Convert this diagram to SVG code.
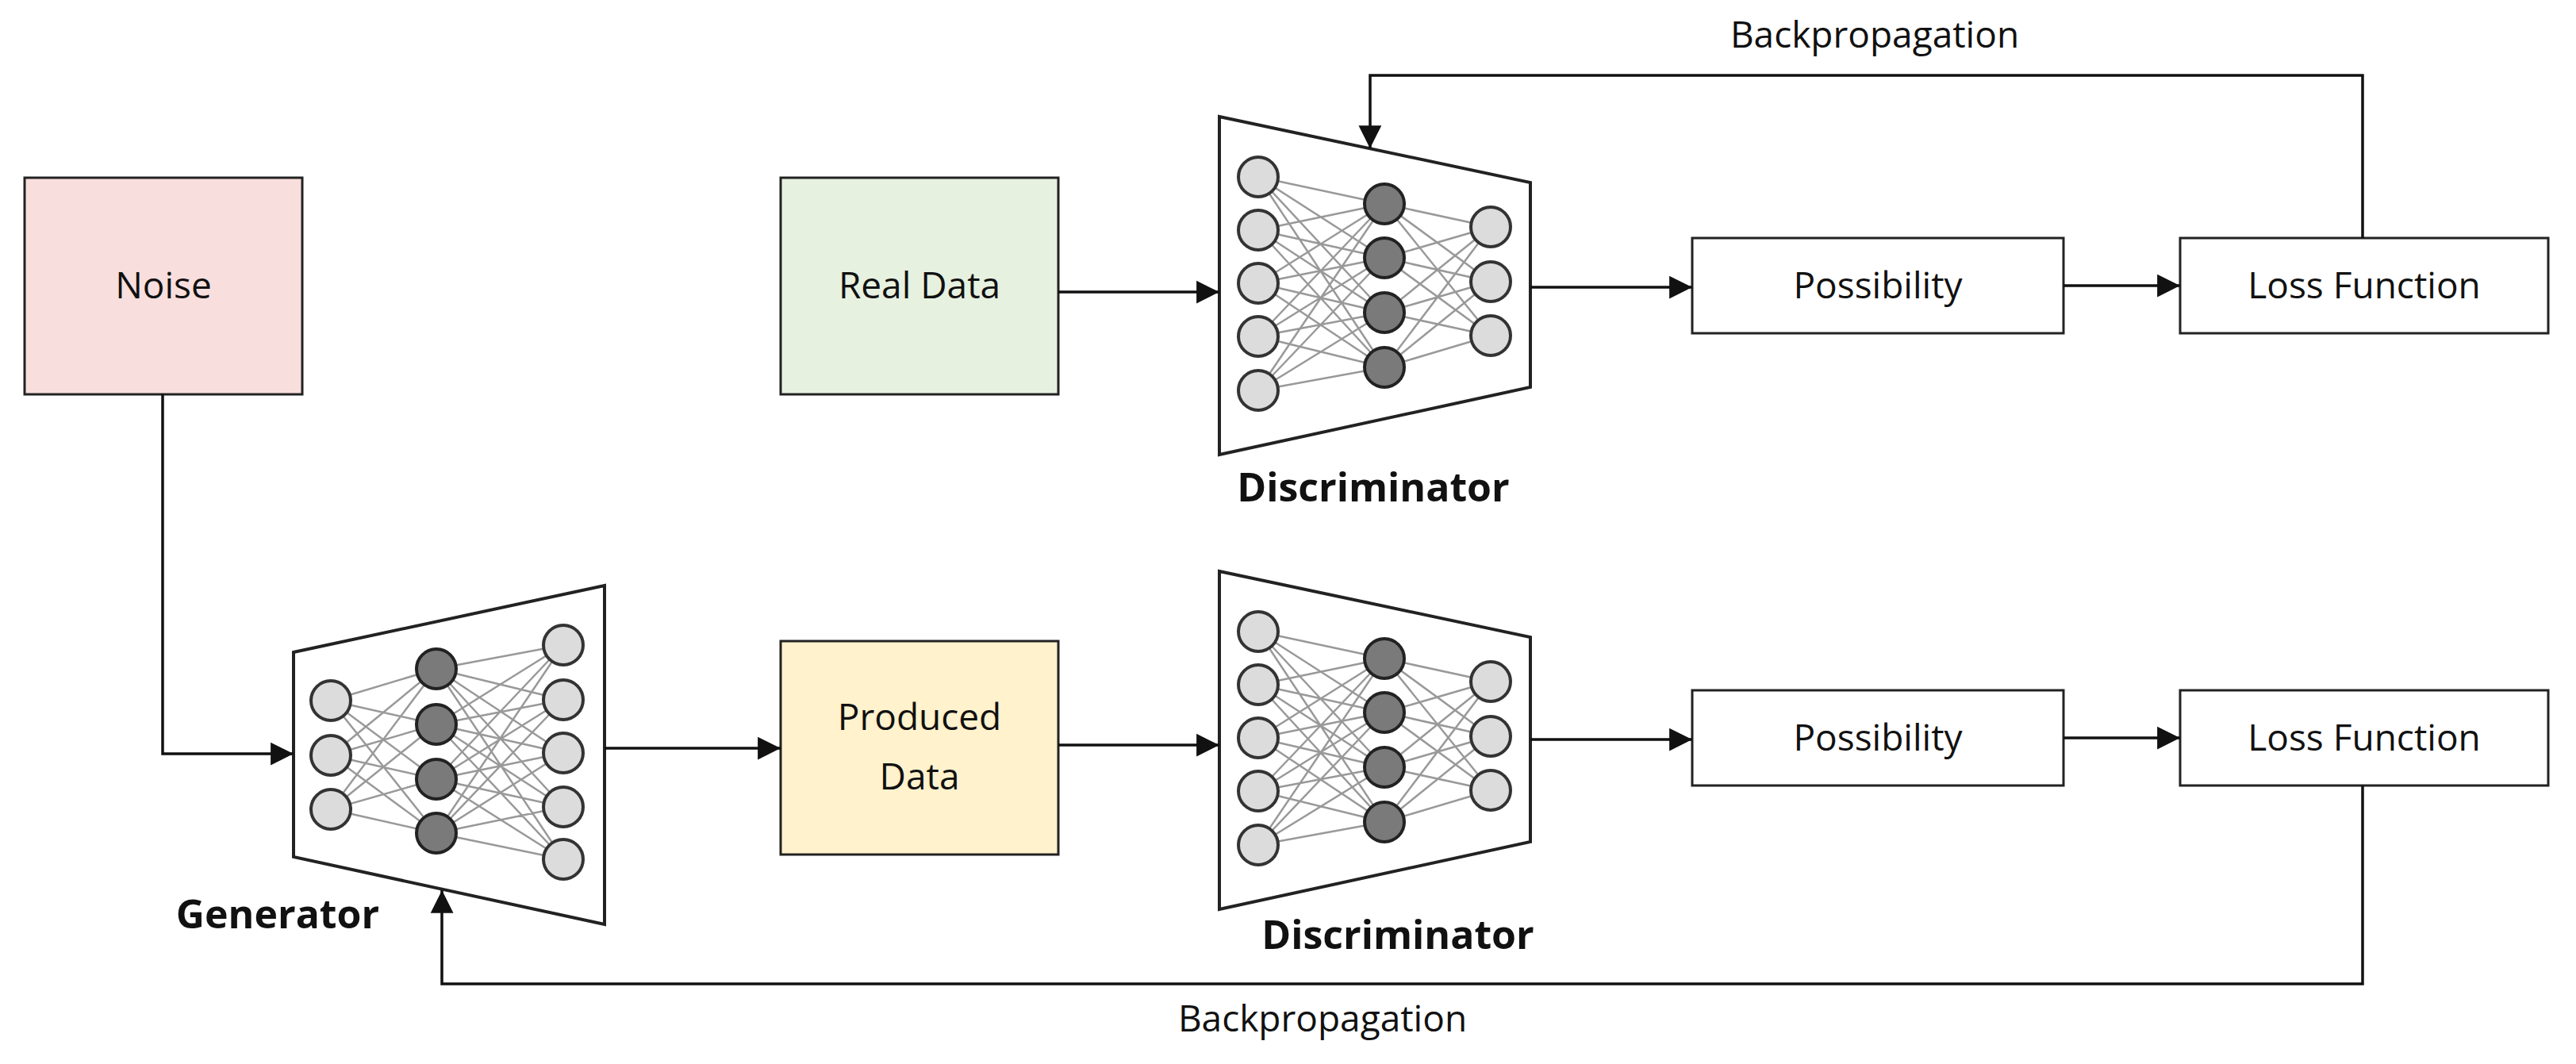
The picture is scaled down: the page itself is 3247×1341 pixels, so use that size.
<svg xmlns="http://www.w3.org/2000/svg" xmlns:xlink="http://www.w3.org/1999/xlink" width="3247" height="1341" viewBox="0 0 3247 1341">
<style>
.box{stroke:#222;stroke-width:3}
.lbl{font-family:"Open Sans","Noto Sans",sans-serif;font-size:46px;fill:#111;text-anchor:middle}
.bold{font-family:"Open Sans","Noto Sans",sans-serif;font-size:50px;font-weight:bold;fill:#111;text-anchor:middle}
.con{fill:none;stroke:#111;stroke-width:3.5}
.trap{fill:#fff;stroke:#222;stroke-width:4}
.w{fill:none;stroke:#999;stroke-width:2.5}
.n1{fill:#dcdcdc;stroke:#333;stroke-width:4}
.n2{fill:#7a7a7a;stroke:#222;stroke-width:4}
</style>
<defs>
<marker id="ah" viewBox="0 0 10 10" refX="10" refY="5" markerWidth="9" markerHeight="9" markerUnits="userSpaceOnUse" orient="auto" style="overflow:visible"><path d="M0 0L10 5L0 10Z" fill="#111" transform="scale(3.2) translate(-6.9 -3.4)"/></marker>
<g id="discNet">
<polygon class="trap" points="0,0 392,83 392,341 0,426"/>
<path class="w" d="M49 76L208 110M49 76L208 178M49 76L208 247M49 76L208 316M49 143L208 110M49 143L208 178M49 143L208 247M49 143L208 316M49 210L208 110M49 210L208 178M49 210L208 247M49 210L208 316M49 277L208 110M49 277L208 178M49 277L208 247M49 277L208 316M49 345L208 110M49 345L208 178M49 345L208 247M49 345L208 316M208 110L342 139M208 110L342 208M208 110L342 276M208 178L342 139M208 178L342 208M208 178L342 276M208 247L342 139M208 247L342 208M208 247L342 276M208 316L342 139M208 316L342 208M208 316L342 276"/>
<circle class="n1" cx="49" cy="76" r="25"/><circle class="n1" cx="49" cy="143" r="25"/><circle class="n1" cx="49" cy="210" r="25"/><circle class="n1" cx="49" cy="277" r="25"/><circle class="n1" cx="49" cy="345" r="25"/>
<circle class="n2" cx="208" cy="110" r="25"/><circle class="n2" cx="208" cy="178" r="25"/><circle class="n2" cx="208" cy="247" r="25"/><circle class="n2" cx="208" cy="316" r="25"/>
<circle class="n1" cx="342" cy="139" r="25"/><circle class="n1" cx="342" cy="208" r="25"/><circle class="n1" cx="342" cy="276" r="25"/>
</g>
</defs>
<rect width="3247" height="1341" fill="#fff"/>
<g id="noise"><rect class="box" x="31" y="224" width="350" height="273" fill="#f8dedc"/><text class="lbl" x="206" y="376">Noise</text></g>
<g id="realdata"><rect class="box" x="984" y="224" width="350" height="273" fill="#e7f1e0"/><text class="lbl" x="1159" y="376">Real Data</text></g>
<g id="produced"><rect class="box" x="984" y="808" width="350" height="269" fill="#fff2cc"/><text class="lbl" x="1159" y="920">Produced</text><text class="lbl" x="1159" y="995">Data</text></g>
<g id="poss1"><rect class="box" x="2133" y="300" width="468" height="120" fill="#fff"/><text class="lbl" x="2367" y="376">Possibility</text></g>
<g id="loss1"><rect class="box" x="2748" y="300" width="464" height="120" fill="#fff"/><text class="lbl" x="2980" y="376">Loss Function</text></g>
<g id="poss2"><rect class="box" x="2133" y="870" width="468" height="120" fill="#fff"/><text class="lbl" x="2367" y="946">Possibility</text></g>
<g id="loss2"><rect class="box" x="2748" y="870" width="464" height="120" fill="#fff"/><text class="lbl" x="2980" y="946">Loss Function</text></g>
<g id="disc1"><use xlink:href="#discNet" href="#discNet" transform="translate(1537 147)"/><text class="bold" x="1731" y="632">Discriminator</text></g>
<g id="disc2"><use xlink:href="#discNet" href="#discNet" transform="translate(1537 720)"/><text class="bold" x="1762" y="1196">Discriminator</text></g>
<g id="generator">
<polygon class="trap" points="370,822 762,738 762,1165 370,1080"/>
<path class="w" d="M417 883L550 843M417 883L550 913M417 883L550 982M417 883L550 1050M417 952L550 843M417 952L550 913M417 952L550 982M417 952L550 1050M417 1020L550 843M417 1020L550 913M417 1020L550 982M417 1020L550 1050M550 843L710 813M550 843L710 882M550 843L710 949M550 843L710 1017M550 843L710 1083M550 913L710 813M550 913L710 882M550 913L710 949M550 913L710 1017M550 913L710 1083M550 982L710 813M550 982L710 882M550 982L710 949M550 982L710 1017M550 982L710 1083M550 1050L710 813M550 1050L710 882M550 1050L710 949M550 1050L710 1017M550 1050L710 1083"/>
<circle class="n1" cx="417" cy="883" r="25"/><circle class="n1" cx="417" cy="952" r="25"/><circle class="n1" cx="417" cy="1020" r="25"/>
<circle class="n2" cx="550" cy="843" r="25"/><circle class="n2" cx="550" cy="913" r="25"/><circle class="n2" cx="550" cy="982" r="25"/><circle class="n2" cx="550" cy="1050" r="25"/>
<circle class="n1" cx="710" cy="813" r="25"/><circle class="n1" cx="710" cy="882" r="25"/><circle class="n1" cx="710" cy="949" r="25"/><circle class="n1" cx="710" cy="1017" r="25"/><circle class="n1" cx="710" cy="1083" r="25"/>
<text class="bold" x="350" y="1170">Generator</text>
</g>
<g id="connectors">
<path class="con" marker-end="url(#ah)" d="M1334 368H1537"/>
<path class="con" marker-end="url(#ah)" d="M1929 362H2133"/>
<path class="con" marker-end="url(#ah)" d="M2601 360H2748"/>
<path class="con" marker-end="url(#ah)" d="M1334 939H1537"/>
<path class="con" marker-end="url(#ah)" d="M1929 932H2133"/>
<path class="con" marker-end="url(#ah)" d="M2601 930H2748"/>
<path class="con" marker-end="url(#ah)" d="M762 943H984"/>
<path class="con" marker-end="url(#ah)" d="M205 497V950H370"/>
<path class="con" marker-end="url(#ah)" d="M2978 300V95H1727V187"/>
<path class="con" marker-end="url(#ah)" d="M2978 990V1240H557V1122"/>
<text class="lbl" x="2363" y="60">Backpropagation</text>
<text class="lbl" x="1667" y="1300">Backpropagation</text>
</g>
</svg>
